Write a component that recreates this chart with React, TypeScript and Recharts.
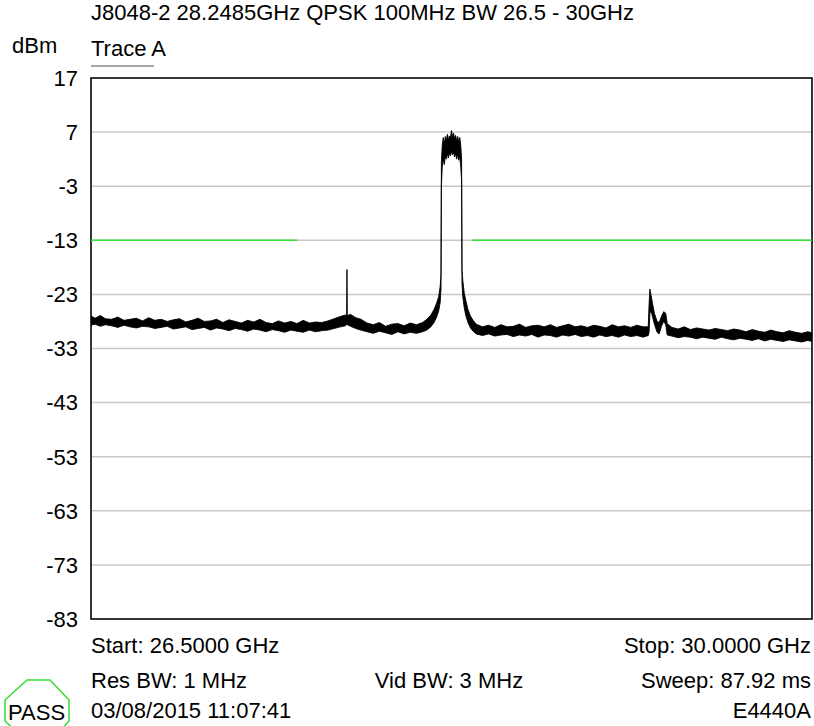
import React from 'react';
import { ComposedChart, Area, XAxis, YAxis, CartesianGrid, ReferenceLine, ReferenceArea } from 'recharts';

// frequency in GHz, low / high edge of the trace band in dBm
const floorLeft: number[][] = [
  [26.5, -28.7, -27.0], [26.52, -28.5, -27.4], [26.545, -28.9, -26.9], [26.57, -28.6, -27.5],
  [26.6, -28.8, -27.6], [26.63, -29.1, -27.2], [26.66, -28.7, -27.8], [26.69, -29.0, -27.6],
  [26.72, -29.2, -27.4], [26.75, -28.9, -27.9], [26.78, -29.0, -27.3], [26.81, -29.3, -27.8],
  [26.84, -29.1, -27.6], [26.87, -28.9, -28.0], [26.9, -29.4, -27.7], [26.93, -29.2, -27.5],
  [26.96, -29.0, -28.1], [26.99, -29.5, -27.8], [27.02, -29.3, -27.4], [27.05, -29.1, -28.0],
  [27.08, -29.6, -27.9], [27.11, -29.2, -27.6], [27.14, -29.4, -28.2], [27.17, -29.7, -27.7],
  [27.2, -29.3, -28.0], [27.23, -29.5, -28.3], [27.26, -29.8, -27.8], [27.29, -29.4, -28.1],
  [27.32, -29.6, -27.6], [27.35, -29.9, -28.2], [27.38, -29.5, -28.4], [27.41, -29.7, -27.9],
  [27.44, -30.0, -28.3], [27.47, -29.6, -28.0], [27.5, -29.8, -28.4], [27.53, -30.0, -27.8],
  [27.56, -29.6, -28.3], [27.59, -29.9, -28.1], [27.62, -29.7, -28.2],
];

const spurLeft: number[][] = [
  [27.65, -29.6, -27.9], [27.68, -29.3, -27.5], [27.71, -29.0, -27.1], [27.735, -28.8, -26.8],
  [27.741, -28.6, -27.0], [27.7425, -28.5, -18.4], [27.744, -28.6, -26.9], [27.76, -28.9, -26.7],
  [27.785, -29.3, -27.3], [27.81, -29.6, -27.6],
];

const floorMid: number[][] = [
  [27.84, -29.9, -28.3], [27.87, -30.2, -28.6], [27.9, -29.8, -28.2], [27.93, -30.1, -28.9],
  [27.96, -30.4, -28.5], [27.99, -29.9, -28.4], [28.02, -30.3, -28.8], [28.05, -30.0, -28.3],
  [28.08, -30.2, -28.6], [28.11, -29.9, -28.2],
];

const carrier: number[][] = [
  [28.13, -29.6, -27.6], [28.15, -29.0, -26.8], [28.165, -28.2, -25.8], [28.178, -27.2, -24.6],
  [28.188, -26.0, -23.4], [28.195, -24.5, -21.5], [28.199, -22.0, -19.5], [28.201, -3.0, 1.5],
  [28.205, 0.5, 4.5], [28.21, 2.0, 6.0], [28.215, 1.0, 4.8], [28.22, 2.5, 6.2],
  [28.225, 2.0, 5.5], [28.23, 3.0, 6.6], [28.235, 2.2, 5.6], [28.24, 3.2, 6.3],
  [28.245, 2.6, 6.0], [28.25, 3.5, 7.3], [28.255, 2.8, 6.1], [28.26, 3.3, 6.8],
  [28.265, 2.4, 5.8], [28.27, 3.0, 6.4], [28.275, 2.0, 5.3], [28.28, 2.8, 6.2],
  [28.285, 1.8, 5.2], [28.29, 2.5, 6.0], [28.295, 0.5, 4.5], [28.299, -2.0, 2.0],
  [28.301, -21.0, -18.5], [28.305, -23.5, -20.5], [28.312, -25.5, -22.8], [28.32, -27.0, -24.2],
  [28.33, -28.2, -25.8], [28.342, -29.2, -27.0], [28.355, -29.8, -27.8], [28.37, -30.3, -28.5],
];

const floorRight: number[][] = [
  [28.4, -30.6, -29.0], [28.43, -30.3, -28.7], [28.46, -30.7, -29.1], [28.49, -30.5, -28.6],
  [28.52, -30.4, -29.0], [28.55, -30.8, -28.9], [28.58, -30.5, -28.5], [28.61, -30.7, -29.1],
  [28.64, -30.4, -28.8], [28.67, -30.9, -28.7], [28.7, -30.5, -29.0], [28.73, -30.6, -28.6],
  [28.76, -30.9, -29.1], [28.79, -30.5, -28.8], [28.82, -30.7, -28.5], [28.85, -30.4, -29.0],
  [28.88, -30.8, -28.8], [28.91, -30.6, -29.1], [28.94, -30.9, -28.7], [28.97, -30.5, -28.9],
  [29.0, -30.8, -29.2], [29.03, -30.6, -28.6], [29.06, -30.9, -29.0], [29.09, -30.5, -28.8],
  [29.12, -30.8, -29.1], [29.15, -30.6, -28.7], [29.18, -30.9, -29.0], [29.205, -30.6, -29.0],
];

const spurRight: number[][] = [
  [29.209, -30.0, -25.0], [29.213, -26.5, -22.0], [29.218, -26.0, -23.0], [29.225, -27.0, -24.5],
  [29.235, -28.5, -26.5], [29.248, -30.0, -28.0], [29.258, -30.3, -28.2], [29.27, -28.8, -27.0],
  [29.28, -28.0, -26.2], [29.29, -28.6, -26.5], [29.297, -30.5, -28.4],
];

const floorTail: number[][] = [
  [29.32, -30.7, -29.1], [29.35, -31.0, -29.4], [29.38, -30.8, -29.0], [29.41, -30.9, -29.5],
  [29.44, -31.2, -29.2], [29.47, -30.9, -29.4], [29.5, -31.1, -29.6], [29.53, -31.3, -29.3],
  [29.56, -30.9, -29.5], [29.59, -31.2, -29.7], [29.62, -31.4, -29.4], [29.65, -31.1, -29.6],
  [29.68, -31.3, -29.9], [29.71, -31.5, -29.5], [29.74, -31.2, -29.8], [29.77, -31.6, -30.0],
  [29.8, -31.3, -29.6], [29.83, -31.5, -29.9], [29.86, -31.7, -30.1], [29.89, -31.4, -29.7],
  [29.92, -31.6, -30.0], [29.95, -31.8, -30.2], [29.98, -31.5, -29.9], [30.0, -31.7, -30.1],
];

const xTicks = [26.5, 26.85, 27.2, 27.55, 27.9, 28.25, 28.6, 28.95, 29.3, 29.65, 30];
const yTicks = [17, 7, -3, -13, -23, -33, -43, -53, -63, -73, -83];
const limitDbm = -13;
const limitLow = [26.5, 27.5];
const limitHigh = [28.35, 30];

const traceRows = [
  ...floorLeft, ...spurLeft, ...floorMid, ...carrier, ...floorRight, ...spurRight, ...floorTail,
].map(([f, lo, hi]) => ({ f, band: [lo, hi] }));

const font = '"Liberation Sans", Arial, sans-serif';
const green = '#33dd33';

export default function App() {
  return (
    <div style={{ position: 'absolute', left: 0, top: 0, width: 814, height: 726, background: '#fff' }}>
      <ComposedChart
        width={814}
        height={726}
        data={traceRows}
        margin={{ top: 78, right: 2, bottom: 107, left: 31 }}
      >
        <CartesianGrid stroke="#c8c8c8" strokeWidth={1.5} />
        <XAxis
          dataKey="f"
          type="number"
          domain={[26.5, 30]}
          ticks={xTicks}
          tick={false}
          tickLine={false}
          axisLine={false}
          height={0}
          allowDataOverflow
        />
        <YAxis
          type="number"
          domain={[-83, 17]}
          ticks={yTicks}
          interval={0}
          width={60}
          tickSize={0}
          tickMargin={13}
          axisLine={false}
          tick={{ fontSize: 22, fill: '#000', fontFamily: font }}
          allowDataOverflow
        />
        <ReferenceLine
          segment={[{ x: limitLow[0], y: limitDbm }, { x: limitLow[1], y: limitDbm }]}
          stroke={green}
          strokeWidth={1.5}
        />
        <ReferenceLine
          segment={[{ x: limitHigh[0], y: limitDbm }, { x: limitHigh[1], y: limitDbm }]}
          stroke={green}
          strokeWidth={1.5}
        />
        <Area
          type="linear"
          dataKey="band"
          stroke="#000"
          strokeWidth={0.9}
          fill="#000"
          fillOpacity={1}
          dot={false}
          activeDot={false}
          isAnimationActive={false}
        />
        <ReferenceArea x1={26.5} x2={30} y1={-83} y2={17} fill="none" stroke="#000" strokeWidth={1.5} />
      </ComposedChart>
      <svg
        width={814}
        height={726}
        style={{ position: 'absolute', left: 0, top: 0, pointerEvents: 'none' }}
        fontFamily={font}
        fontSize={22}
      >
        <text x={91} y={20}>J8048-2 28.2485GHz QPSK 100MHz BW 26.5 - 30GHz</text>
        <text x={12} y={53}>dBm</text>
        <text x={91} y={56}>Trace A</text>
        <line x1={91} y1={66} x2={154} y2={66} stroke="#888" strokeWidth={1.5} />
        <text x={91} y={653}>Start: 26.5000 GHz</text>
        <text x={811} y={653} textAnchor="end">Stop: 30.0000 GHz</text>
        <text x={91} y={688}>Res BW: 1 MHz</text>
        <text x={449} y={688} textAnchor="middle">Vid BW: 3 MHz</text>
        <text x={811} y={688} textAnchor="end">Sweep: 87.92 ms</text>
        <text x={91} y={718}>03/08/2015 11:07:41</text>
        <text x={811} y={718} textAnchor="end">E4440A</text>
        <polygon
          points="27,680 50,680 69,700 69,721 50,742 27,742 5,721 5,700"
          fill="none"
          stroke={green}
          strokeWidth={1.5}
        />
        <text x={8} y={720}>PASS</text>
      </svg>
    </div>
  );
}
